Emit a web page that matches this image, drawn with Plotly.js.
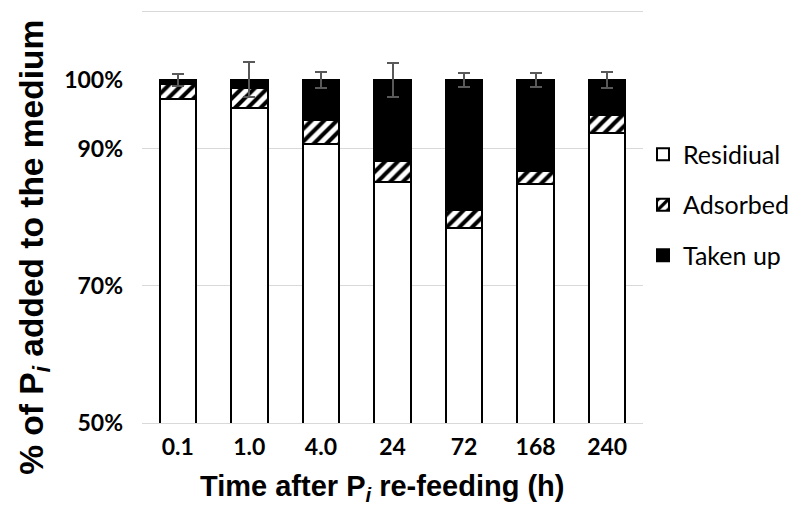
<!DOCTYPE html>
<html>
<head>
<meta charset="utf-8">
<script src="https://cdn.plot.ly/plotly-3.0.1.min.js"></script>
<style>html,body{margin:0;padding:0;background:#fff;}#chart{width:804px;height:508px;}</style>
</head>
<body>
<div id="chart"></div>
<script>
const categories = ["0.1", "1.0", "4.0", "24", "72", "168", "240"];
const residual = [97.2, 95.9, 90.7, 85.2, 78.4, 84.9, 92.2];
const adsorbed = [2.15, 2.9, 3.5, 3.0, 2.6, 1.8, 2.7];
const takenUp = [0.65, 1.2, 5.8, 11.8, 19.0, 13.3, 5.1];
const takenUpErr = [0.9, 2.55, 1.1, 2.45, 1.05, 0.97, 1.16];
const seriesNames = ["Residiual", "Adsorbed", "Taken up"];
const yTickVals = [50, 70, 90, 110];
const yTickText = ["50%", "70%", "90%", ""];
const yExtraVals = [100];
const yExtraText = ["100%"];

const lineStyle = {color: "#000", width: 2};
const tickFont = {family: "Lato, sans-serif", size: 23, color: "#000", weight: "bold"};
const traces = [
  {type: "bar", name: seriesNames[0], x: categories, y: residual, legendgroup: "a",
   marker: {color: "#ffffff", line: lineStyle}},
  {type: "bar", name: seriesNames[1], x: categories, y: adsorbed, legendgroup: "b",
   marker: {color: "#ffffff", line: lineStyle,
     pattern: {shape: "/", fgcolor: "#000", bgcolor: "#fff", size: 9, solidity: 0.45, fillmode: "replace"}}},
  {type: "bar", name: seriesNames[2], x: categories, y: takenUp, legendgroup: "c",
   marker: {color: "#000000", line: lineStyle},
   error_y: {type: "data", array: takenUpErr, visible: true, color: "#595959", thickness: 2, width: 6}},
  // invisible helper so the secondary (label-only) y axis is drawn
  {type: "scatter", mode: "markers", x: categories, y: residual, yaxis: "y2",
   marker: {opacity: 0}, showlegend: false, hoverinfo: "skip"}
];

const layout = {
  width: 804, height: 508,
  margin: {l: 142, r: 135, t: 10, b: 85},
  paper_bgcolor: "#fff", plot_bgcolor: "#fff",
  barmode: "stack", bargap: 0.49,
  showlegend: true,
  legend: {x: 1.0, xanchor: "left", y: 0.528, yanchor: "middle",
    traceorder: "grouped", tracegroupgap: 15, borderwidth: 0,
    font: {family: "Lato, sans-serif", size: 25, color: "#000"}},
  xaxis: {type: "category", showgrid: false, showline: true, linecolor: "#d9d9d9", linewidth: 1,
    ticks: "", tickfont: tickFont, ticklabelstandoff: 3},
  yaxis: {range: [50, 110.2], tickmode: "array", tickvals: yTickVals, ticktext: yTickText,
    showgrid: true, gridcolor: "#d9d9d9", gridwidth: 1, zeroline: false, showline: false,
    ticks: "", ticklabelstandoff: 18, tickfont: tickFont},
  yaxis2: {range: [50, 110.2], overlaying: "y", side: "left", anchor: "x", tickmode: "array",
    tickvals: yExtraVals, ticktext: yExtraText, showgrid: false, zeroline: false, showline: false,
    ticks: "", ticklabelstandoff: 18, tickfont: tickFont},
  annotations: [
    {text: "% of P<sub><i>i</i></sub> added to the medium", xref: "paper", yref: "paper",
     x: -0.216, y: 0.426, xanchor: "center", yanchor: "middle", textangle: -90, showarrow: false,
     font: {family: "Liberation Sans, Arial, sans-serif", size: 33.5, color: "#000", weight: "bold"}},
    {text: "Time after P<sub><i>i</i></sub> re-feeding (h)", xref: "paper", yref: "paper",
     x: 0.48, y: -0.158, xanchor: "center", yanchor: "middle", showarrow: false,
     font: {family: "Liberation Sans, Arial, sans-serif", size: 29, color: "#000", weight: "bold"}}
  ]
};

Plotly.newPlot("chart", traces, layout, {displayModeBar: false, staticPlot: true});
</script>
</body>
</html>
